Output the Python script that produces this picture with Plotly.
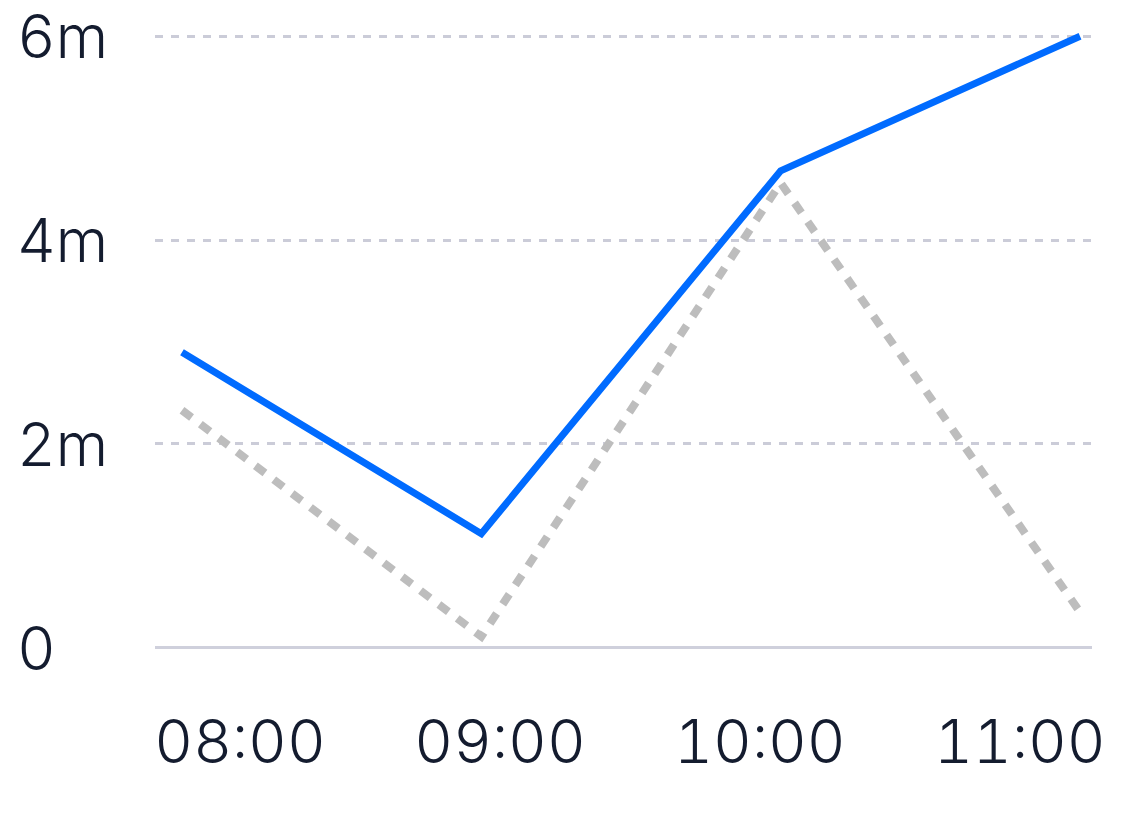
import plotly.graph_objects as go

times = ["08:00", "09:00", "10:00", "11:00"]
current = [2.90, 1.12, 4.68, 6.00]
previous = [2.33, 0.11, 4.56, 0.35]
y_ticks = [0, 2, 4, 6]
y_labels = ["0", "2m", "4m", "6m"]

pos = list(range(len(times)))
text_font = dict(family="Inter", size=60, color="#141c2f", weight=300)

fig = go.Figure()

# comparison series (dashed gray) drawn under the main one
fig.add_trace(go.Scatter(x=pos, y=previous, mode="lines",
                         line=dict(color="#bdbdbd", width=8, dash="12px,11px"),
                         hoverinfo="skip"))
fig.add_trace(go.Scatter(x=pos, y=current, mode="lines",
                         line=dict(color="#006bff", width=7),
                         hoverinfo="skip"))
# invisible helpers so the label axes get drawn
fig.add_trace(go.Scatter(x=pos, y=current, xaxis="x2", mode="lines",
                         opacity=0, hoverinfo="skip"))
fig.add_trace(go.Scatter(x=pos, y=current, yaxis="y2", mode="lines",
                         opacity=0, hoverinfo="skip"))

# page body adds 8px, so layout coords are picture coords minus 8
ml, mr = 8, 20
pw = 1140 - ml - mr
x_dom = [(147 - ml) / pw, (1084 - ml) / pw]

fig.update_layout(
    width=1140, height=819,
    margin=dict(l=ml, r=mr, t=18, b=169, autoexpand=False),
    paper_bgcolor="white", plot_bgcolor="white",
    showlegend=False,
    xaxis=dict(domain=x_dom, range=[-0.0902, 3.040], showticklabels=False,
               showgrid=False, zeroline=False, showline=False, fixedrange=True),
    xaxis2=dict(overlaying="x", anchor="y", side="bottom", type="linear",
                range=[-0.327, 3.277], tickmode="array", tickvals=pos,
                ticktext=times, tickfont=text_font, showgrid=False,
                zeroline=False, showline=False, ticks="", ticklabelstandoff=44,
                automargin=False, ticklabeloverflow="allow"),
    yaxis=dict(range=[-0.1, 6.1], tickvals=y_ticks, showticklabels=False,
               showgrid=True, gridcolor="#cbccd8", gridwidth=3,
               griddash="8px,8px", zeroline=True, zerolinecolor="#cfd0dc",
               zerolinewidth=3, showline=False, automargin=False),
    yaxis2=dict(overlaying="y", anchor="free", position=0, side="right",
                matches="y", tickmode="array", tickvals=y_ticks,
                ticktext=y_labels, tickfont=text_font, showgrid=False,
                zeroline=False, showline=False, ticks="", ticklabelshift=1,
                automargin=False, ticklabeloverflow="allow"),
)

# digits in the reference are tabular (the "1" is as wide as "0")
css = ("var s=document.createElement('style');"
       "s.textContent='text{font-variant-numeric:tabular-nums !important;}';"
       "document.head.appendChild(s);")
fig.write_html("out.html", post_script=css)
